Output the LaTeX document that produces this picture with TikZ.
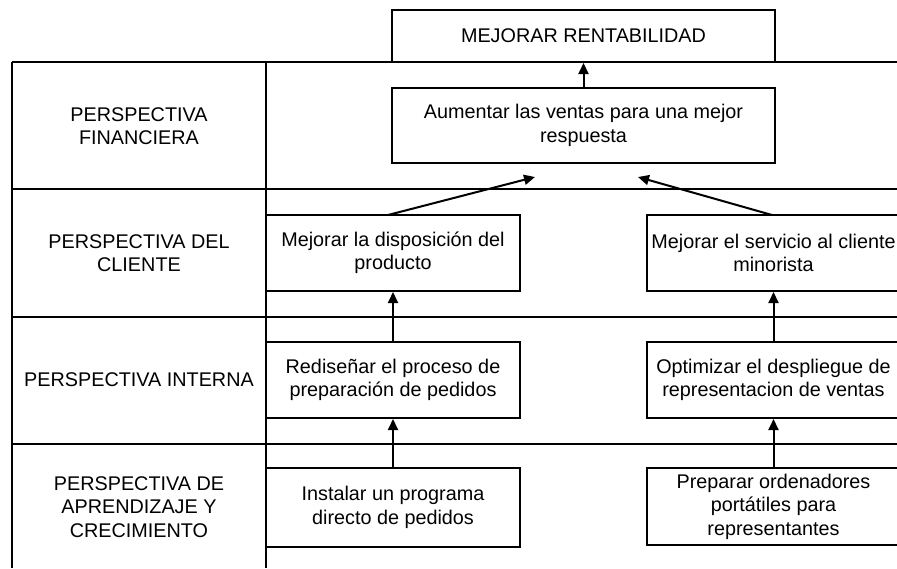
\documentclass[tikz,border=0pt]{standalone}
\usepackage{fontspec}
\setmainfont{Liberation Sans}
\usetikzlibrary{arrows.meta}
\begin{document}
\begin{tikzpicture}[x=1pt,y=-1pt,
  every node/.style={font=\fontsize{19.8}{23.5}\selectfont, align=center},
  box/.style={draw, line width=2pt, inner sep=0pt, minimum width=254pt, minimum height=76pt},
  wide/.style={box, minimum width=383pt},
  grid/.style={line width=2pt},
  arr/.style={line width=2pt, -{Triangle[length=11pt,width=10pt]}},
  rowlabel/.style={inner sep=0pt}]
\useasboundingbox (0,0) rectangle (897,568);
% table lines
\draw[grid] (12,62) -- (897,62);
\draw[grid] (12,189) -- (897,189);
\draw[grid] (12,317) -- (897,317);
\draw[grid] (12,444) -- (897,444);
\draw[grid] (12,62) -- (12,568);
\draw[grid] (266,62) -- (266,568);
% row labels
\node[rowlabel] (lf) at (139,126) {PERSPECTIVA\\FINANCIERA};
\node[rowlabel] (lc) at (139,253) {PERSPECTIVA DEL\\CLIENTE};
\node[rowlabel] (li) at (139,380) {PERSPECTIVA INTERNA};
\node[rowlabel] (la) at (139,507) {PERSPECTIVA DE\\APRENDIZAJE Y\\CRECIMIENTO};
% boxes
\node[wide, minimum height=52pt, fill=white] (top) at (583.5,36) {MEJORAR RENTABILIDAD};
\node[wide, minimum height=75pt] (aum) at (583.5,125.5) {Aumentar las ventas para una mejor\\respuesta};
\node[box] (mdp) at (393,253) {Mejorar la disposición del\\producto};
\node[box] (red) at (393,380) {Rediseñar el proceso de\\preparación de pedidos};
\node[box, minimum height=79pt] (ins) at (393,507.5) {Instalar un programa\\directo de pedidos};
\node[box] (msc) at (773.5,253) {Mejorar el servicio al cliente\\minorista};
\node[box] (opt) at (773.5,380) {Optimizar el despliegue de\\representacion de ventas};
\node[box, minimum height=77pt] (pre) at (773.5,506.5) {Preparar ordenadores\\portátiles para\\representantes};
% free ends
\coordinate (tipl) at (535,177);
\coordinate (tipr) at (638,177);
\coordinate (srcl) at (388,215);
\coordinate (srcr) at (772,215);
% connectors
\draw[arr] (aum.north) -- (top.south);
\draw[arr] (srcl) -- (tipl);
\draw[arr] (srcr) -- (tipr);
\draw[arr] (red.north) -- (mdp.south);
\draw[arr] (ins.north) -- (red.south);
\draw[arr] (opt.north) -- (msc.south);
\draw[arr] (pre.north) -- (opt.south);
\end{tikzpicture}
\end{document}
